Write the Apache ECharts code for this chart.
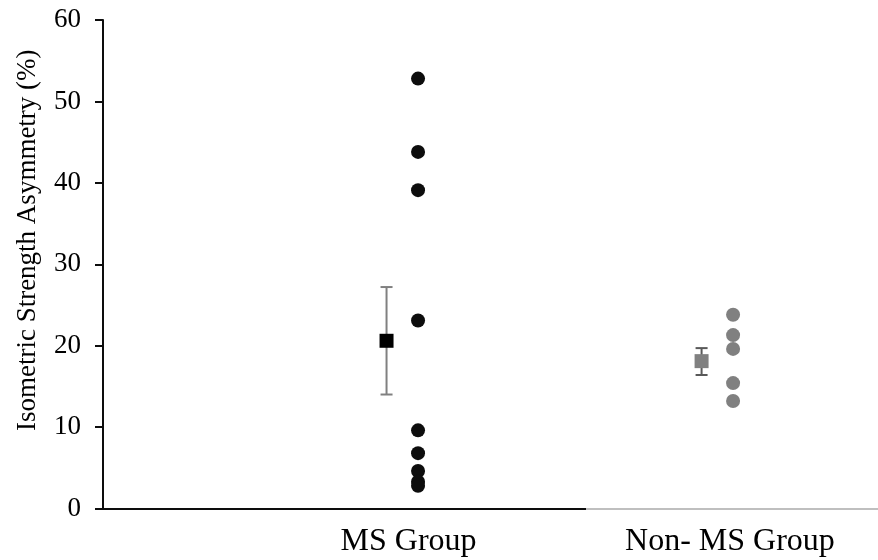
<!DOCTYPE html>
<html>
<head>
<meta charset="utf-8">
<script src="https://cdn.jsdelivr.net/npm/echarts@6/dist/echarts.min.js"></script>
<style>html,body{margin:0;padding:0;background:#fff}#c{width:878px;height:560px}</style>
</head>
<body>
<div id="c"></div>
<script>
// ---- data ----
const categories = ['MS Group', 'Non- MS Group'];
const groupX = [1, 2];
const msValues = [52.8, 43.8, 39.1, 23.1, 9.6, 6.8, 4.6, 3.3, 2.8];
const nonMsValues = [23.8, 21.3, 19.6, 15.4, 13.2];
const means = [20.6, 18.1];
const errLow = [14.0, 16.4];
const errHigh = [27.2, 19.7];
const yTicks = [0, 10, 20, 30, 40, 50, 60];

// ---- build ----
const meanShift = -0.1;
const msPts = msValues.map(v => [groupX[0], v]);
const nonPts = nonMsValues.map(v => [groupX[1], v]);
const meanPts = means.map((m, i) => ({value: [groupX[i] + meanShift, m],
  itemStyle: {color: i === 0 ? '#000000' : '#808080', opacity: 1}}));
const errData = means.map((m, i) => [groupX[i] + meanShift, errLow[i], errHigh[i]]);
const errColors = ['#808080', '#595959'];
const font = 'Liberation Serif, Times New Roman, serif';

const chart = echarts.init(document.getElementById('c'), null, {renderer: 'canvas'});
chart.setOption({
  animation: false,
  backgroundColor: '#ffffff',
  grid: {left: 103, top: 20, bottom: 51.5, right: 0, containLabel: false},
  xAxis: {
    type: 'value', min: 0, max: 2.46,
    splitLine: {show: false},
    axisTick: {show: false},
    axisLine: {show: true, onZero: false, lineStyle: {width: 2,
      color: {type: 'linear', x: 0, y: 0, x2: 1, y2: 0, colorStops: [
        {offset: 0, color: '#0d0d0d'}, {offset: 0.623, color: '#0d0d0d'},
        {offset: 0.623, color: '#bfbfbf'}, {offset: 1, color: '#bfbfbf'}]}}},
    axisLabel: {
      customValues: [0.97, 1.99],
      formatter: v => (v < 1.5 ? categories[0] : categories[1]),
      fontFamily: font, fontSize: 32, color: '#000', margin: 17
    }
  },
  yAxis: {
    type: 'value', min: yTicks[0], max: yTicks[yTicks.length - 1], interval: 10,
    name: 'Isometric Strength Asymmetry (%)',
    nameLocation: 'middle', nameGap: 62, nameRotate: 90,
    nameTextStyle: {fontFamily: font, fontSize: 27, color: '#000', padding: [0, 0, 0, 48]},
    splitLine: {show: false},
    axisLine: {show: true, lineStyle: {color: '#0d0d0d', width: 2}},
    axisTick: {show: true, length: 8, lineStyle: {color: '#0d0d0d', width: 2}},
    axisLabel: {fontFamily: font, fontSize: 27, color: '#000', margin: 22}
  },
  series: [
    {
      type: 'custom', z: 1,
      renderItem: function (params, api) {
        const x = api.value(0);
        const lo = api.coord([x, api.value(1)]);
        const hi = api.coord([x, api.value(2)]);
        const cw = 6;
        const st = {stroke: errColors[params.dataIndex], lineWidth: 2};
        return {type: 'group', children: [
          {type: 'line', shape: {x1: lo[0], y1: lo[1], x2: hi[0], y2: hi[1]}, style: st},
          {type: 'line', shape: {x1: lo[0] - cw, y1: lo[1], x2: lo[0] + cw, y2: lo[1]}, style: st},
          {type: 'line', shape: {x1: hi[0] - cw, y1: hi[1], x2: hi[0] + cw, y2: hi[1]}, style: st}
        ]};
      },
      data: errData
    },
    {type: 'scatter', z: 3, symbol: 'rect', symbolSize: 14, data: meanPts},
    {type: 'scatter', z: 2, symbol: 'circle', symbolSize: 14, itemStyle: {color: '#0d0d0d', opacity: 1}, data: msPts},
    {type: 'scatter', z: 2, symbol: 'circle', symbolSize: 14, itemStyle: {color: '#808080', opacity: 1}, data: nonPts}
  ]
});
</script>
</body>
</html>
